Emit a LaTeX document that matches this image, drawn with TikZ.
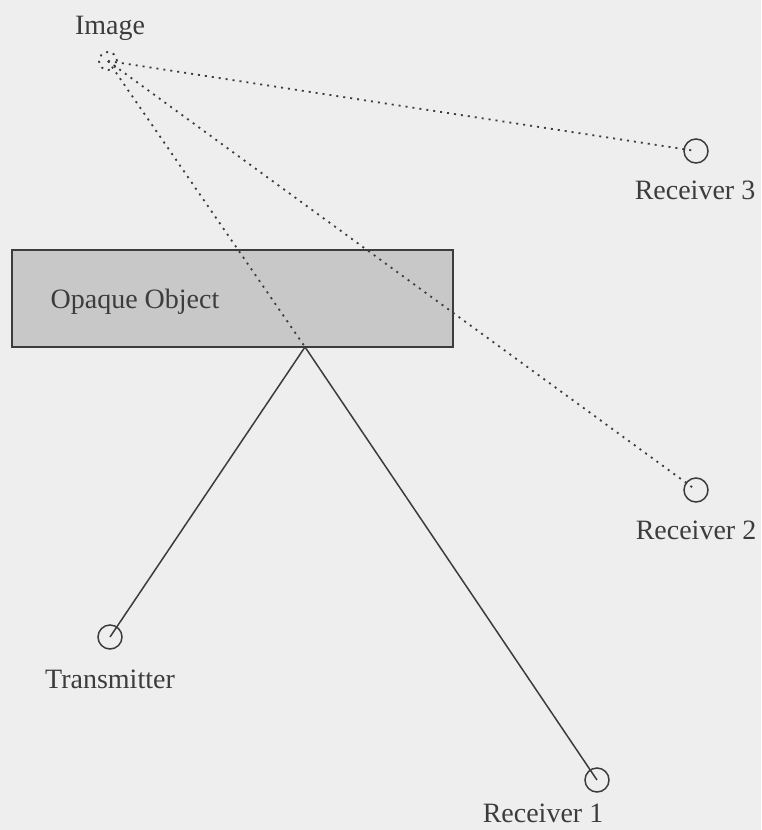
\documentclass[tikz,border=0pt]{standalone}
\usepackage{fontspec}
\setmainfont{Liberation Serif}
\definecolor{bg}{RGB}{238,238,238}
\definecolor{ink}{RGB}{60,60,60}
\definecolor{boxfill}{RGB}{200,200,200}
\begin{document}
\begin{tikzpicture}[x=1pt,y=-1pt,
  lbl/.style={font=\fontsize{28}{34}\selectfont, text=ink, inner sep=0pt},
  rx/.style={circle, draw=ink, line width=1.5pt, minimum size=24pt, inner sep=0pt},
  dots/.style={draw=ink, line width=1.8pt, dash pattern=on 2pt off 5pt},
  ray/.style={draw=ink, line width=1.5pt}]
\fill[bg] (0,0) rectangle (761,830);
\useasboundingbox (0,0) rectangle (761,830);
% opaque object
\node[draw=ink, line width=1.5pt, fill=boxfill, minimum width=441pt, minimum height=97pt, inner sep=0pt] (obj) at (232.5,298.5) {};
\node[lbl] (objlbl) at (135,302) {Opaque Object};
\coordinate (refl) at (305,347);
% image
\node[circle, dots, minimum size=18pt, inner sep=0pt] (img) at (108,61) {};
\node[lbl] (imglbl) at (110,28) {Image};
% receivers and transmitter
\node[rx] (r3) at (696,151) {};
\node[lbl] (r3lbl) at (695,190) {Receiver 3};
\node[rx] (r2) at (696,490) {};
\node[lbl] (r2lbl) at (696,530) {Receiver 2};
\node[rx] (tx) at (110,637) {};
\node[lbl] (txlbl) at (110,679) {Transmitter};
\node[rx] (r1) at (597,780) {};
\node[lbl] (r1lbl) at (543,813) {Receiver 1};
% rays
\draw[dots] (img.center) -- (r3.center);
\draw[dots] (img.center) -- (r2.center);
\draw[dots] (img.center) -- (refl);
\draw[ray] (tx.center) -- (refl) -- (r1.center);
\end{tikzpicture}
\end{document}
